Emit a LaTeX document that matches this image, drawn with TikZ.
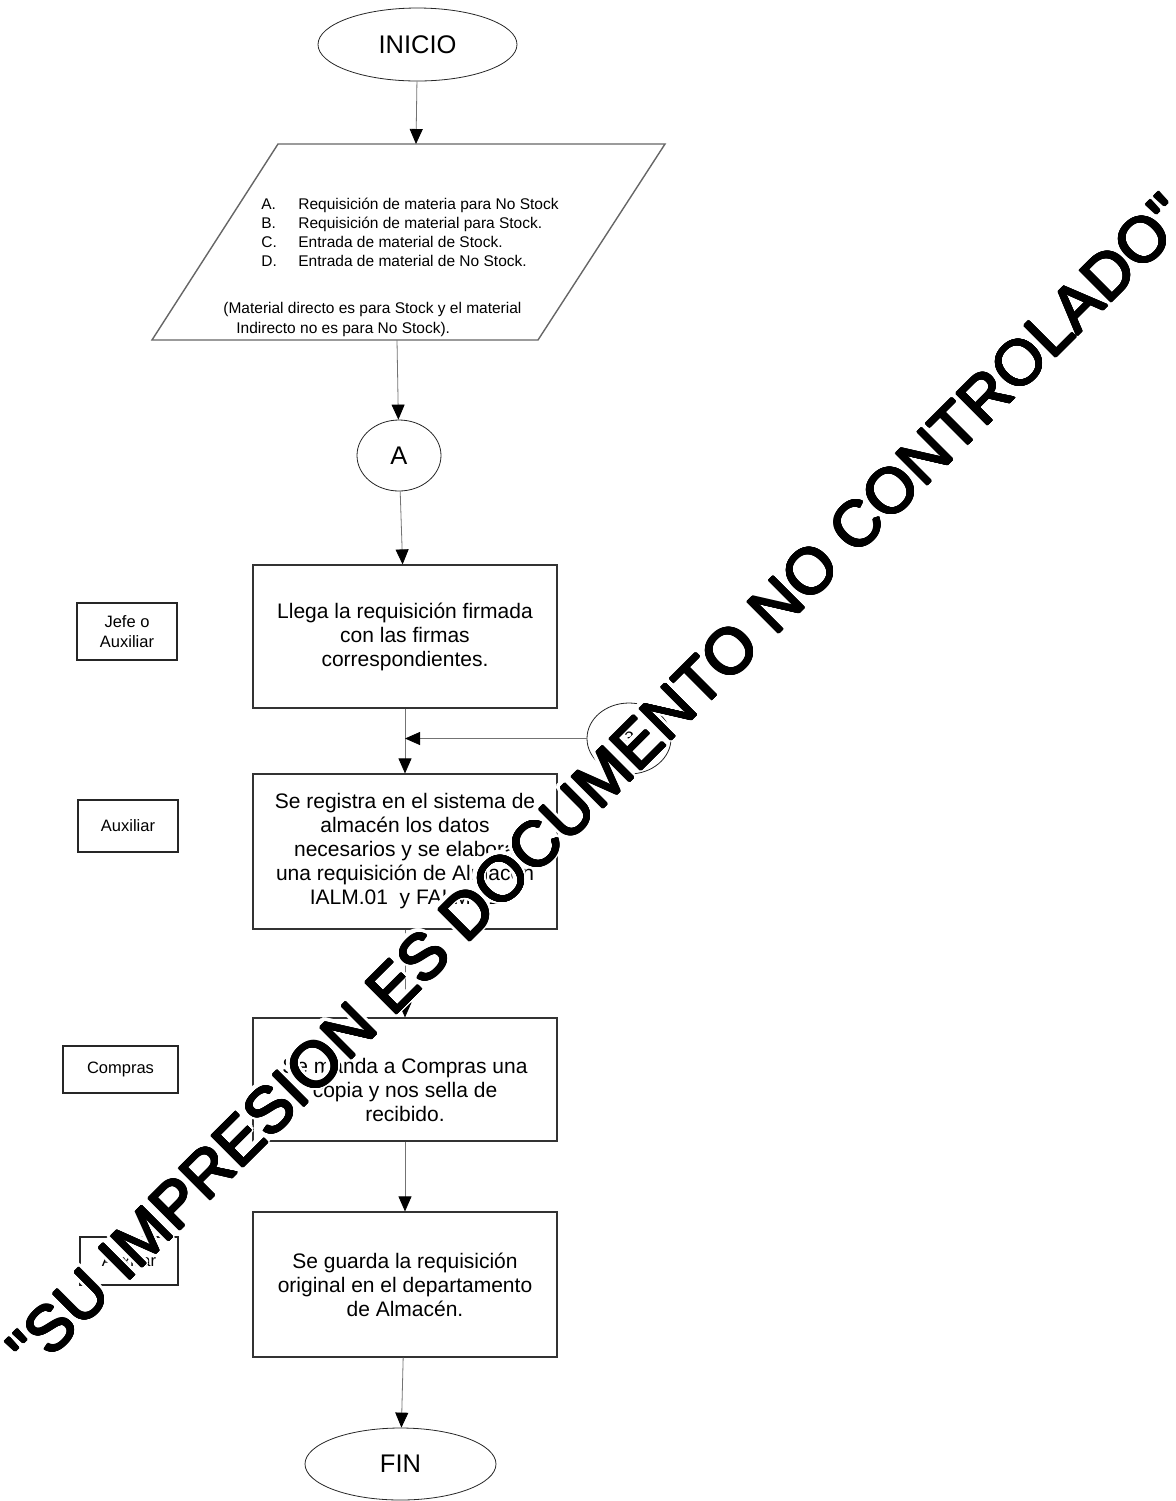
\documentclass[tikz,border=0pt]{standalone}
\usepackage{fontspec}
\setmainfont{Liberation Sans}
\usepackage{contour}
\usetikzlibrary{shapes.geometric,arrows.meta}

\newcommand{\textomarca}{\textquotedbl SU IMPRESION ES DOCUMENTO NO CONTROLADO\textquotedbl}

\begin{document}
\begin{tikzpicture}[x=0.5pt, y=-0.5pt,
	flecha/.style={draw=black!55, line width=0.4pt, -{Triangle[length=7.5pt,width=6.5pt,black]}},
	caja/.style={rectangle, draw=black!80, line width=0.6pt, align=center, inner sep=0pt, minimum width=152pt, font=\fontsize{10.5}{12}\selectfont},
	etiqueta/.style={rectangle, draw=black!85, line width=0.6pt, align=center, inner sep=0pt, font=\fontsize{8.25}{9.75}\selectfont},
	terminal/.style={ellipse, draw=black!85, line width=0.4pt, inner sep=0pt, font=\fontsize{12.75}{14}\selectfont},
	sello/.style={rotate=44.9, inner sep=0pt, font=\fontsize{32}{32}\selectfont}]
	\useasboundingbox (0,0) rectangle (1175,1501);
	\node (ini) at (417.5, 44.5)	[terminal, minimum width=99.5pt, minimum height=36.5pt]	{INICIO};
	\coordinate (pTL) at (278,144);
	\coordinate (pTR) at (665,144);
	\coordinate (pBR) at (538,340);
	\coordinate (pBL) at (152,340);
	\coordinate (paraT) at (416,144);
	\coordinate (paraB) at (397,340);
	\draw[draw=black!60, line width=0.7pt] (pTL) -- (pTR) -- (pBR) -- (pBL) -- cycle;
	\node (lista) at (261, 209.5)	[anchor=base west, inner sep=0pt, font=\fontsize{7.75}{9.5}\selectfont]
		{\begin{tabular}[t]{@{}p{18.5pt}@{}l@{}}
		A. & Requisición de materia para No Stock\\
		B. & Requisición de material  para Stock.\\
		C. & Entrada de material de Stock.\\
		D. & Entrada de material de No Stock.
		\end{tabular}};
	\node (nota) at (223, 313.5)	[anchor=base west, inner sep=0pt, font=\fontsize{7.75}{10}\selectfont]
		{\begin{tabular}[t]{@{}l@{}}
		(Material directo es para Stock y el material\\
		\hspace*{6.5pt}Indirecto no es para No Stock).
		\end{tabular}};
	\node (A) at (399, 455.5)	[terminal, minimum width=42pt, minimum height=35.5pt]	{A};
	\node (llega) at (405, 636.5)	[caja, minimum height=71.5pt]	{Llega la requisición firmada\\con las firmas\\correspondientes.};
	\node (registra) at (405, 851.5)	[caja, minimum height=77.5pt]	{Se registra en el sistema de\\almacén los datos\\necesarios y se elabora\\una requisición de Almacén\\IALM.01\ \ y FALM.01};
	\node (manda) at (405, 1079.5)	[caja, minimum height=61.5pt]	{\rule{0pt}{18pt}Se manda a Compras una\\copia y nos sella de\\recibido.};
	\node (guarda) at (405, 1284.5)	[caja, minimum height=72.5pt]	{Se guarda la requisición\\original en el departamento\\de Almacén.};
	\node (fin) at (400.5, 1464)	[terminal, minimum width=95.5pt, minimum height=36pt]	{FIN};
	\node (tres) at (629, 738.5)	[ellipse, draw=black!85, line width=0.4pt, inner sep=0pt, minimum width=42pt, minimum height=35.5pt, font=\fontsize{9}{10}\selectfont]	{3};
	\node (jefe) at (127, 631.5)	[etiqueta, minimum width=50pt, minimum height=28.5pt]	{Jefe o\\Auxiliar};
	\node (aux1) at (128, 826)	[etiqueta, minimum width=50pt, minimum height=26pt]	{Auxiliar};
	\node (compras) at (120.5, 1069.5)	[etiqueta, minimum width=57.5pt, minimum height=23.5pt]	{Compras};
	\node (aux2) at (129, 1261)	[etiqueta, minimum width=49pt, minimum height=24pt]	{Auxiliar};
	\draw[flecha] (ini) -- (paraT);
	\draw[flecha] (paraB) -- (A);
	\draw[flecha] (A) -- (llega);
	\draw[flecha] (llega) -- (registra);
	\draw[flecha] (tres) -- (tres -| llega);
	\draw[flecha] (registra) -- (manda);
	\draw[flecha] (manda) -- (guarda);
	\draw[flecha] (guarda) -- (fin);
	\node (halo) at (598, 783)	[sello, text=white]	{\contourlength{2pt}\contour{white}{\textomarca}};
	\node (marca) at (598, 783)	[sello]	{\contourlength{0.45pt}\contour{black}{\textomarca}};
\end{tikzpicture}
\end{document}
